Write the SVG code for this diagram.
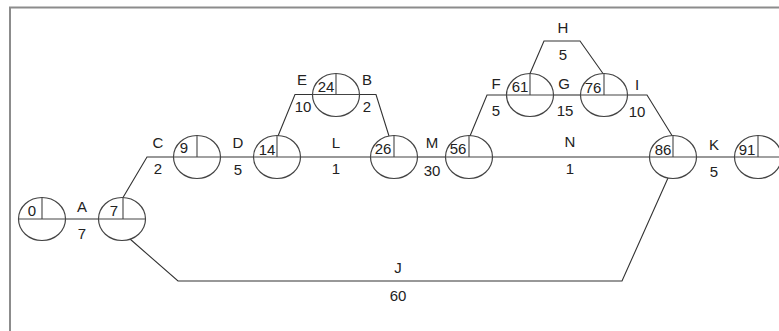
<svg xmlns="http://www.w3.org/2000/svg" width="779" height="331" viewBox="0 0 779 331">
<style>
.frame{fill:none;stroke:#8c8c8c;stroke-width:2}
.node ellipse{fill:none;stroke:#444;stroke-width:1.2}
.node line{stroke:#444;stroke-width:1.1}
.conn path{fill:none;stroke:#333;stroke-width:1.1}
text{font-family:"Liberation Sans",Arial,sans-serif;font-size:15px;fill:#222;text-anchor:middle}
</style>
<rect width="779" height="331" fill="#fff"/>
<path class="frame" d="M10,331 V7.5 H779"/>
<g class="conn" id="connectors">
<path d="M65.5,219 H98.5"/>
<path d="M123,197.5 L147,157 H173.5"/>
<path d="M220.5,157 H253.5"/>
<path d="M278,136 L295,94.5 H312.5"/>
<path d="M359.5,94.5 H376 L389,136"/>
<path d="M300.5,157 H370.5"/>
<path d="M417.5,157 H445.5"/>
<path d="M470,136 L487,95 H506.5"/>
<path d="M553.5,95 H580.5"/>
<path d="M627.5,95 H647 L672,135.5"/>
<path d="M530,73.5 L544,41 H580 L603,73.5"/>
<path d="M492.5,157 H649.5"/>
<path d="M696.5,157 H734.5"/>
<path d="M130,239 L178,281 H622 L668,178"/>
<text x="82" y="212">A</text><text x="82" y="238.5">7</text>
<text x="158" y="147.5">C</text><text x="158" y="173.5">2</text>
<text x="238" y="148">D</text><text x="238" y="175">5</text>
<text x="302" y="85">E</text><text x="303" y="112">10</text>
<text x="367" y="85">B</text><text x="367" y="112">2</text>
<text x="336" y="147.5">L</text><text x="336" y="173.5">1</text>
<text x="432" y="148">M</text><text x="432" y="175.5">30</text>
<text x="496" y="88.5">F</text><text x="496" y="116">5</text>
<text x="564" y="89">G</text><text x="565" y="116">15</text>
<text x="637" y="89.5">I</text><text x="637" y="116.5">10</text>
<text x="563" y="32.5">H</text><text x="563" y="60">5</text>
<text x="570" y="147">N</text><text x="570" y="173.5">1</text>
<text x="714" y="150">K</text><text x="714" y="176.5">5</text>
<text x="398" y="273">J</text><text x="398" y="301">60</text>
</g>
<g class="node" id="n0"><ellipse cx="42" cy="219" rx="23.5" ry="21.5"/><line x1="42" y1="197.5" x2="42" y2="219"/><line x1="18.5" y1="219" x2="65.5" y2="219"/><text x="32" y="215.5">0</text></g>
<g class="node" id="n7"><ellipse cx="122" cy="219" rx="23.5" ry="21.5"/><line x1="123" y1="197.5" x2="123" y2="219"/><line x1="98.5" y1="219" x2="145.5" y2="219"/><text x="114" y="215.5">7</text></g>
<g class="node" id="n9"><ellipse cx="197" cy="157" rx="23.5" ry="21.5"/><line x1="197" y1="135.5" x2="197" y2="157"/><line x1="173.5" y1="157" x2="220.5" y2="157"/><text x="184" y="153">9</text></g>
<g class="node" id="n14"><ellipse cx="277" cy="157" rx="23.5" ry="21.5"/><line x1="277" y1="135.5" x2="277" y2="157"/><line x1="253.5" y1="157" x2="300.5" y2="157"/><text x="267" y="155">14</text></g>
<g class="node" id="n24"><ellipse cx="336" cy="95" rx="23.5" ry="21.5"/><line x1="336" y1="73.5" x2="336" y2="95"/><line x1="312.5" y1="94.5" x2="359.5" y2="94.5"/><text x="326" y="92">24</text></g>
<g class="node" id="n26"><ellipse cx="394" cy="157" rx="23.5" ry="21.5"/><line x1="394" y1="135.5" x2="394" y2="157"/><line x1="370.5" y1="157" x2="417.5" y2="157"/><text x="383" y="154">26</text></g>
<g class="node" id="n56"><ellipse cx="469" cy="157" rx="23.5" ry="21.5"/><line x1="469" y1="135.5" x2="469" y2="157"/><line x1="445.5" y1="157" x2="492.5" y2="157"/><text x="458" y="153.5">56</text></g>
<g class="node" id="n61"><ellipse cx="530" cy="95" rx="23.5" ry="21.5"/><line x1="530" y1="73.5" x2="530" y2="95"/><line x1="506.5" y1="95" x2="553.5" y2="95"/><text x="520" y="92">61</text></g>
<g class="node" id="n76"><ellipse cx="604" cy="95" rx="23.5" ry="21.5"/><line x1="604" y1="73.5" x2="604" y2="95"/><line x1="580.5" y1="95" x2="627.5" y2="95"/><text x="593" y="92.5">76</text></g>
<g class="node" id="n86"><ellipse cx="673" cy="157" rx="23.5" ry="21.5"/><line x1="673" y1="135.5" x2="673" y2="157"/><line x1="649.5" y1="157" x2="696.5" y2="157"/><text x="663" y="155">86</text></g>
<g class="node" id="n91"><ellipse cx="758" cy="157" rx="23.5" ry="21.5"/><line x1="758" y1="135.5" x2="758" y2="157"/><line x1="734.5" y1="157" x2="781.5" y2="157"/><text x="747" y="155">91</text></g>
</svg>
